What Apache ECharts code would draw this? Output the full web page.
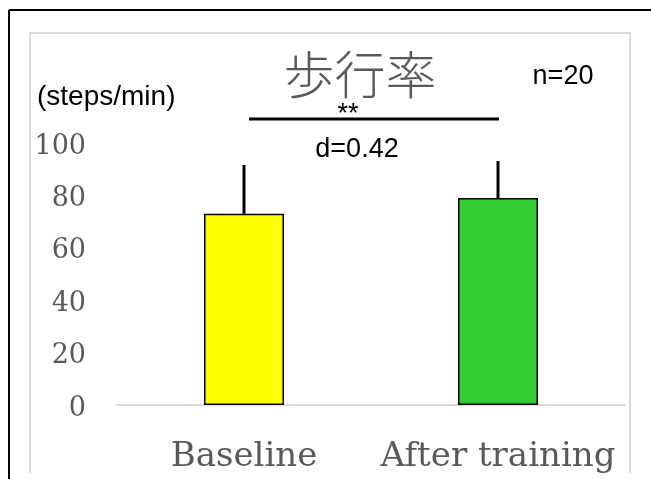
<!DOCTYPE html>
<html>
<head>
<meta charset="utf-8">
<script src="https://cdn.jsdelivr.net/npm/echarts@6/dist/echarts.min.js"></script>
<style>
  html, body { margin: 0; padding: 0; background: #ffffff; }
  #chart { width: 651px; height: 479px; }
</style>
</head>
<body>
<div id="chart"></div>
<script>
// Cadence (steps/min) before and after training, mean with upward SD bar
const categories = ['Baseline', 'After training'];
const meanValues = [73, 79];
const sdValues = [18.6, 14.1];
const barColors = ['#FFFF00', '#33CC33'];
const yTickLabels = ['0', '20', '40', '60', '80', '100'];
// height (in axis units) of the significance bracket between the two bars
const bracketLevel = [109.2];

const serif = '"DejaVu Serif", "Liberation Serif", serif';
const sans = '"Liberation Sans", Arial, sans-serif';

const chart = echarts.init(document.getElementById('chart'), null, { renderer: 'canvas' });

chart.setOption({
  backgroundColor: '#ffffff',
  animation: false,
  grid: { left: 117, right: 26, top: 143, bottom: 74 },
  xAxis: {
    type: 'category',
    data: categories,
    axisLine: { lineStyle: { color: '#d9d9d9', width: 2 } },
    axisTick: { show: false },
    axisLabel: {
      interval: 0, hideOverlap: false,
      fontFamily: serif, fontSize: 34, color: '#595959', margin: 35
    }
  },
  yAxis: {
    type: 'value',
    min: 0,
    max: 100,
    interval: 20,
    axisLine: { show: false },
    axisTick: { show: false },
    splitLine: { show: false },
    axisLabel: {
      fontFamily: serif, fontSize: 27, color: '#595959', margin: 31,
      verticalAlign: 'top', lineHeight: 7,
      formatter: (v) => yTickLabels[Math.round(v / 20)]
    }
  },
  series: [
    {
      type: 'bar',
      barWidth: 80,
      data: meanValues.map((v, i) => ({
        value: v,
        itemStyle: { color: barColors[i], borderColor: '#000000', borderWidth: 1.5 }
      })),
      z: 2
    },
    {
      // upward standard deviation whiskers
      type: 'custom',
      clip: false,
      data: meanValues.map((v, i) => [i, v, sdValues[i]]),
      renderItem: (params, api) => {
        const i = api.value(0);
        const base = api.coord([i, api.value(1)]);
        const top = api.coord([i, api.value(1) + api.value(2)]);
        return {
          type: 'line',
          shape: { x1: base[0], y1: base[1], x2: top[0], y2: top[1] },
          style: { stroke: '#000000', lineWidth: 3 }
        };
      },
      z: 3
    },
    {
      // significance bracket between the two groups
      type: 'custom',
      clip: false,
      data: bracketLevel.map((lv) => [0, 1, lv]),
      renderItem: (params, api) => {
        const a = api.coord([api.value(0), api.value(2)]);
        const b = api.coord([api.value(1), api.value(2)]);
        return {
          type: 'line',
          shape: { x1: a[0] + 5, y1: a[1], x2: b[0] + 1, y2: b[1] },
          style: { stroke: '#000000', lineWidth: 3 }
        };
      },
      z: 3
    }
  ],
  graphic: [
    // outer frame (top and left edges)
    { type: 'line', shape: { x1: 9, y1: 10, x2: 651, y2: 10 }, style: { stroke: '#000000', lineWidth: 2 }, silent: true },
    { type: 'line', shape: { x1: 9, y1: 10, x2: 9, y2: 479 }, style: { stroke: '#000000', lineWidth: 2 }, silent: true },
    // chart area border
    { type: 'polyline', shape: { points: [[30, 473], [30, 33], [630, 33], [630, 473]] }, style: { stroke: '#d9d9d9', lineWidth: 2, fill: null }, silent: true },
    { type: 'text', x: 360, y: 75, style: { text: '歩行率', font: '300 51px "Noto Sans CJK JP", sans-serif', fill: '#595959', align: 'center', verticalAlign: 'middle' } },
    { type: 'text', x: 37, y: 97, style: { text: '(steps/min)', font: '28px ' + sans, fill: '#000000', align: 'left', verticalAlign: 'middle' } },
    { type: 'text', x: 563, y: 77, style: { text: 'n=20', font: '27px ' + sans, fill: '#000000', align: 'center', verticalAlign: 'middle' } },
    { type: 'text', x: 348, y: 115, style: { text: '**', font: '27px ' + sans, fill: '#000000', align: 'center', verticalAlign: 'middle' } },
    { type: 'text', x: 357, y: 150, style: { text: 'd=0.42', font: '27px ' + sans, fill: '#000000', align: 'center', verticalAlign: 'middle' } }
  ]
});
</script>
</body>
</html>
